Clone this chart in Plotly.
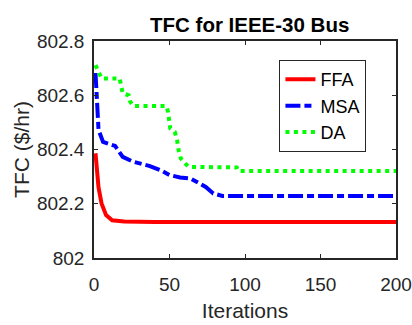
import plotly.graph_objects as go

# FFA
ffa_x = [1, 2, 3, 5, 8, 12, 20, 40, 200]
ffa_y = [802.386, 802.33, 802.26, 802.201, 802.158, 802.139, 802.135, 802.133, 802.133]
# MSA
msa_x = [1, 2, 3, 6, 14, 19, 26, 37, 44, 50, 57, 64, 70, 74, 79, 85, 200]
msa_y = [802.682, 802.60, 802.472, 802.428, 802.413, 802.373, 802.355, 802.339, 802.324,
         802.306, 802.297, 802.293, 802.275, 802.262, 802.238, 802.229, 802.229]
# DA
da_x = [1, 3, 5, 17, 18, 19, 23, 24, 26, 48, 49, 50.5, 53.5, 55, 56, 57.5, 62.5, 94.5, 95.5, 200]
da_y = [802.711, 802.687, 802.662, 802.662, 802.638, 802.607, 802.60, 802.576, 802.560, 802.560,
        802.539, 802.478, 802.465, 802.435, 802.398, 802.367, 802.336, 802.334, 802.321, 802.321]

x_ticks = [0, 50, 100, 150, 200]
y_ticks = [802, 802.2, 802.4, 802.6, 802.8]
y_tick_text = ["802", "802.2", "802.4", "802.6", "802.8"]

font = "Liberation Sans, Arial, sans-serif"

fig = go.Figure()
fig.add_trace(go.Scatter(x=ffa_x, y=ffa_y, mode="lines", name="FFA",
                         line=dict(color="#ff0000", width=4)))
fig.add_trace(go.Scatter(x=msa_x, y=msa_y, mode="lines", name="MSA",
                         line=dict(color="#0000ff", width=4, dash="15px,4px,7px,4px")))
fig.add_trace(go.Scatter(x=da_x, y=da_y, mode="lines", name="DA",
                         line=dict(color="#00ff00", width=4, dash="4px,4.5px")))

axis_common = dict(showgrid=False, zeroline=False, showline=True, mirror="ticks",
                   linecolor="#262626", linewidth=1.5, ticks="inside", ticklen=4,
                   tickcolor="#262626", automargin=False,
                   tickfont=dict(size=19, color="#262626", family=font))

fig.update_layout(
    width=412, height=325,
    margin=dict(l=94, r=16, t=41, b=67, autoexpand=False),
    paper_bgcolor="white", plot_bgcolor="white",
    title=dict(text="<b>TFC for IEEE-30 Bus</b>", x=249.7 / 412, xanchor="center",
               y=1 - 25 / 325, yanchor="middle", automargin=False,
               font=dict(size=20.5, color="black", family=font)),
    xaxis=dict(range=[0, 200], tickvals=x_ticks, ticktext=[str(v) for v in x_ticks],
               ticklabelstandoff=8,
               title=dict(text="Iterations", font=dict(size=21, color="#262626", family=font),
                          standoff=10),
               **axis_common),
    yaxis=dict(range=[802, 802.8], tickvals=y_ticks, ticktext=y_tick_text,
               ticklabelstandoff=4,
               title=dict(text="TFC ($/hr)", font=dict(size=21, color="#262626", family=font),
                          standoff=2),
               **axis_common),
    legend=dict(x=0.614, y=0.912, xanchor="left", yanchor="top",
                bgcolor="white", bordercolor="#262626", borderwidth=1,
                font=dict(size=18, color="black", family=font),
                tracegroupgap=0, itemwidth=30),
    showlegend=True,
)

fig.write_html("out.html", config={"displayModeBar": False},
               post_script="document.body.style.margin='0';document.body.style.overflow='hidden';")
